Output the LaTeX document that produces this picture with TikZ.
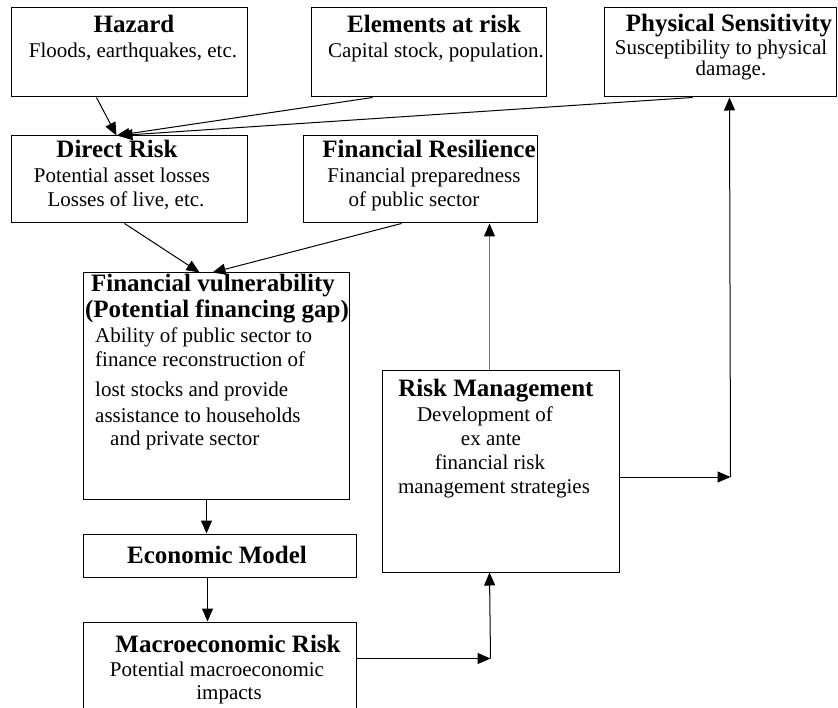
\documentclass[tikz,border=0pt]{standalone}
\usepackage{fontspec}
\setmainfont{Liberation Serif}
\usetikzlibrary{arrows.meta,calc}
\begin{document}
\begin{tikzpicture}[x=1pt,y=-1pt,
  box/.style={draw, line width=1pt, inner sep=0pt},
  ttl/.style={font=\fontsize{25}{28}\selectfont\bfseries, anchor=base, inner sep=0pt},
  txt/.style={font=\fontsize{21}{24}\selectfont, anchor=base, inner sep=0pt},
  ltxt/.style={txt, anchor=base west},
  arr/.style={-{Triangle[length=13pt,width=11pt,color=black]}, line width=1pt},
  line/.style={line width=1pt}]
\useasboundingbox (0,0) rectangle (838,708);
\fill[white] (0,0) rectangle (838,708);
% boxes
\node[box, minimum width=236pt, minimum height=89pt] (haz) at (129,52.5) {};
\node[box, minimum width=235pt, minimum height=89pt] (ele) at (428.5,52.5) {};
\node[box, minimum width=232pt, minimum height=89pt] (phy) at (720,52.5) {};
\node[box, minimum width=236pt, minimum height=87pt] (dir) at (129,179.5) {};
\node[box, minimum width=234pt, minimum height=87pt] (fres) at (420,179.5) {};
\node[box, minimum width=266pt, minimum height=226pt] (fv) at (216,386) {};
\node[box, minimum width=273pt, minimum height=43pt] (em) at (219.5,555.5) {};
\node[box, minimum width=273pt, minimum height=98pt] (mr) at (219.5,671) {};
\node[box, minimum width=237pt, minimum height=201pt] (rm) at (500.5,471.5) {};
% texts
\node[ttl] (hazt) at (134,33) {Hazard};
\node[txt] (hazb) at (133,58) {Floods, earthquakes, etc.};
\node[ttl] (elet) at (434,33) {Elements at risk};
\node[txt] (eleb) at (436,58) {Capital stock, population.};
\node[ttl] (phyt) at (729,32) {Physical Sensitivity};
\node[txt] (phyb1) at (721,55) {Susceptibility to physical};
\node[txt] (phyb2) at (731,76) {damage.};
\node[ttl] (dirt) at (117,158) {Direct Risk};
\node[txt] (dirb1) at (122,183) {Potential asset losses};
\node[txt] (dirb2) at (126,207) {Losses of live, etc.};
\node[ttl] (frest) at (429,158) {Financial Resilience};
\node[txt] (fresb1) at (424,183) {Financial preparedness};
\node[txt] (fresb2) at (414,207) {of public sector};
\node[ttl] (fvt1) at (213,292) {Financial vulnerability};
\node[ttl] (fvt2) at (217,318) {(Potential financing gap)};
\node[ltxt] (fvb1) at (95,343) {Ability of public sector to};
\node[ltxt] (fvb2) at (95,367) {finance reconstruction of};
\node[ltxt] (fvb3) at (95,397) {lost stocks and provide};
\node[ltxt] (fvb4) at (95,422) {assistance to households};
\node[ltxt] (fvb5) at (110,445) {and private sector};
\node[ttl] (emt) at (217,563) {Economic Model};
\node[ttl] (mrt) at (228,652) {Macroeconomic Risk};
\node[txt] (mrb1) at (217,676) {Potential macroeconomic};
\node[txt] (mrb2) at (229,699) {impacts};
\node[ttl] (rmt) at (496,397) {Risk Management};
\node[txt] (rmb1) at (485,421) {Development of};
\node[txt] (rmb2) at (491,445) {ex ante};
\node[txt] (rmb3) at (490,469) {financial risk};
\node[txt] (rmb4) at (494,493) {management strategies};
% connectors
\draw[arr] ($(haz.south west)+(86,0)$) -- ($(dir.north west)+(106,0)$);
\draw[arr] ($(ele.south west)+(62,0)$) -- ($(dir.north west)+(106,0)$);
\draw[arr] ($(phy.south west)+(89,0)$) -- ($(dir.north west)+(109,0)$);
\draw[arr] ($(dir.south west)+(114,0)$) -- ($(fv.north west)+(117,0)$);
\draw[arr] ($(fres.south west)+(99,0)$) -- ($(fv.north west)+(130,0)$);
\draw[arr, draw=black!55] ($(rm.north west)+(108,0)$) -- ($(fres.south west)+(187,0)$);
\coordinate (c1) at ($(rm.east)+(111,5.5)$);
\draw[arr] ($(rm.east)+(0,5.5)$) -- (c1);
\draw[arr] (c1) -- ($(phy.south west)+(126,0)$);
\draw[arr] ($(fv.south west)+(124,0)$) -- ($(em.north west)+(124,0)$);
\draw[arr] ($(em.south west)+(125,0)$) -- ($(mr.north west)+(125,0)$);
\coordinate (c2) at ($(mr.north east)+(134,37)$);
\draw[arr] ($(mr.north east)+(0,37)$) -- (c2);
\draw[arr] (c2) -- ($(rm.south west)+(108,0)$);
\end{tikzpicture}
\end{document}
